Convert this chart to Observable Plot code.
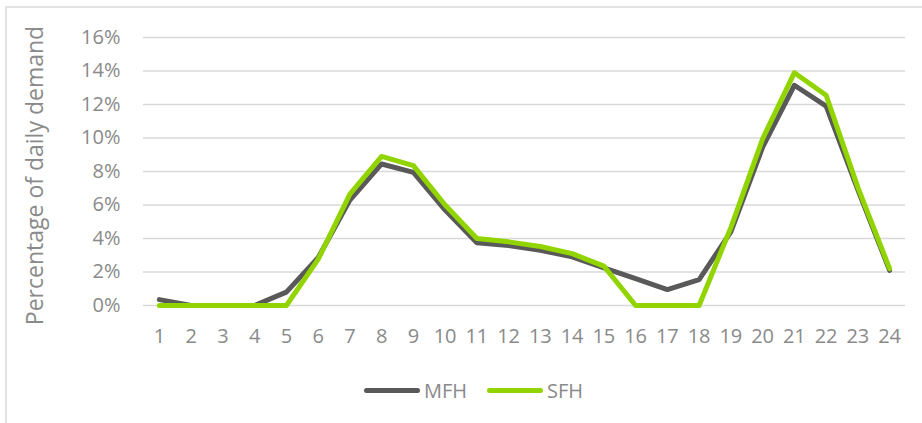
<!DOCTYPE html>
<html>
<head>
<meta charset="utf-8">
<script src="https://cdn.jsdelivr.net/npm/d3@7"></script>
<script src="https://cdn.jsdelivr.net/npm/@observablehq/plot@0.6"></script>
<style>
  html, body { margin: 0; padding: 0; background: #fff; width: 922px; height: 423px; overflow: hidden; }
  #frame { position: absolute; left: 5px; top: 6px; width: 940px; height: 440px; border-left: 2px solid #e3e3e3; border-top: 2px solid #e3e3e3; }
  #chart { position: absolute; left: 0; top: 0; }
  #legend { position: absolute; top: 377px; left: 0; width: 922px; height: 26px; font-family: "Open Sans", sans-serif; font-size: 20px; color: #8a8a8a; }
  .item { position: absolute; top: 0; display: flex; align-items: center; height: 26px; }
  .swatch { width: 56px; height: 5px; border-radius: 3px; margin-right: 4px; }
</style>
</head>
<body>
<div id="frame"></div>
<div id="chart"></div>
<div id="legend"></div>
<script>
const hours = [1,2,3,4,5,6,7,8,9,10,11,12,13,14,15,16,17,18,19,20,21,22,23,24];
const mfh = [0.35,0,0,0,0.8,2.85,6.3,8.45,7.95,5.7,3.75,3.58,3.3,2.9,2.25,1.6,0.95,1.55,4.4,9.45,13.15,11.9,6.9,2.1];
const sfh = [0,0,0,0,0,2.75,6.65,8.9,8.35,6.0,4.0,3.8,3.52,3.1,2.35,0,0,0,4.65,9.95,13.9,12.55,7.05,2.2];
const yTicks = [0,2,4,6,8,10,12,14,16];
const seriesNames = ["MFH", "SFH"];
const seriesColors = ["#595959", "#92d400"];
const yTitle = "Percentage of daily demand";

const rows = [];
hours.forEach((h, i) => {
  rows.push({hour: h, value: mfh[i], series: "MFH"});
  rows.push({hour: h, value: sfh[i], series: "SFH"});
});

const chart = Plot.plot({
  width: 922,
  height: 360,
  marginLeft: 143,
  marginRight: 17,
  marginTop: 37,
  marginBottom: 55,
  style: {fontFamily: "Open Sans, sans-serif", fontSize: "20px", color: "#8a8a8a", background: "transparent"},
  x: {type: "point", domain: hours, padding: 0.5, round: false},
  y: {domain: [0, 16]},
  marks: [
    Plot.gridY(yTicks, {stroke: "#d9d9d9", strokeOpacity: 1, strokeWidth: 1.4}),
    Plot.axisY({ticks: yTicks, tickSize: 0, tickPadding: 23, tickFormat: d => d + "%", label: null, fontSize: 20}),
    Plot.axisX({tickSize: 0, tickPadding: 23, label: null, fontSize: 20}),
    Plot.lineY(rows.filter(d => d.series === "MFH"), {x: "hour", y: "value", stroke: seriesColors[0], strokeWidth: 5, strokeLinejoin: "round", strokeLinecap: "round"}),
    Plot.lineY(rows.filter(d => d.series === "SFH"), {x: "hour", y: "value", stroke: seriesColors[1], strokeWidth: 5, strokeLinejoin: "round", strokeLinecap: "round"}),
    Plot.text([yTitle], {frameAnchor: "left", textAnchor: "middle", lineAnchor: "middle", rotate: -90, dx: -108, dy: 4, fontSize: 23, fill: "#8a8a8a", text: d => d})
  ]
});
document.getElementById("chart").appendChild(chart);

const legend = document.getElementById("legend");
const lefts = [364, 487];
seriesNames.forEach((name, i) => {
  const item = document.createElement("div");
  item.className = "item";
  item.style.left = lefts[i] + "px";
  const sw = document.createElement("div");
  sw.className = "swatch";
  sw.style.background = seriesColors[i];
  const label = document.createElement("span");
  label.textContent = name;
  item.appendChild(sw);
  item.appendChild(label);
  legend.appendChild(item);
});
</script>
</body>
</html>
